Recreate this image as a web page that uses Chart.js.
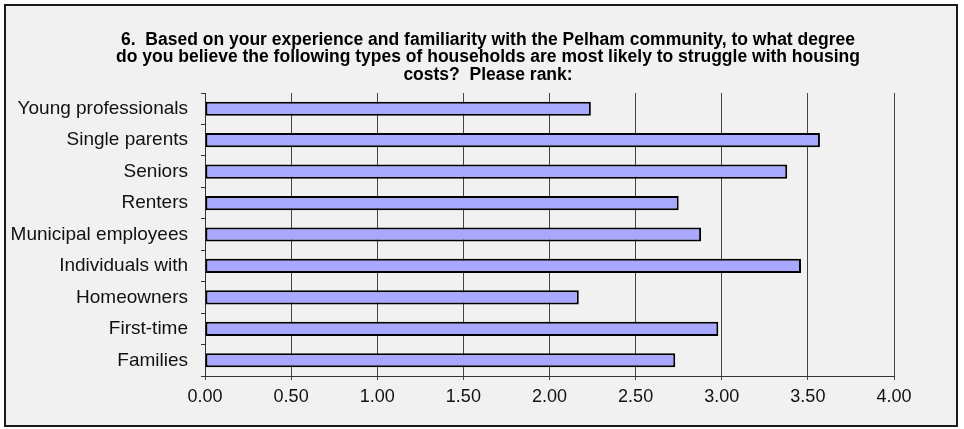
<!DOCTYPE html>
<html lang="en">
<head>
  <meta charset="UTF-8">
  <title>Housing cost struggle ranking</title>
  <script src="https://cdn.jsdelivr.net/npm/chart.js"></script>
  <style>
    body { margin: 0; background: #fff; }
    #box { position: absolute; left: 4px; top: 4px; width: 950px; height: 419px; border: 2px solid #1a1a1a; background: #f1f1f1; }
    canvas { display: block; }
  </style>
</head>
<body>
  <div id="box"><canvas id="rankChart" width="950" height="419"></canvas></div>
  <script>
    const titleLines = [
      '6.  Based on your experience and familiarity with the Pelham community, to what degree',
      'do you believe the following types of households are most likely to struggle with housing',
      'costs?  Please rank:'
    ];
    const categories = ['Young professionals', 'Single parents', 'Seniors', 'Renters',
      'Municipal employees', 'Individuals with', 'Homeowners', 'First-time', 'Families'];
    const scores = [2.24, 3.57, 3.38, 2.75, 2.88, 3.46, 2.17, 2.98, 2.73];
    const axisMin = 0, axisMax = 4, axisStep = 0.5;

    const font = 'Liberation Sans, Arial, sans-serif';

    // left padding moves the title centre; y labels would be clipped to the narrowed
    // scale box, so widen that box back to the canvas edge once layout is done
    const widenLabels = {
      id: 'widenLabels',
      afterLayout(chart) { chart.scales.y.left = 0; }
    };

    new Chart(document.getElementById('rankChart'), {
      type: 'bar',
      data: {
        labels: categories,
        datasets: [{
          data: scores,
          backgroundColor: '#a8a8ff',
          borderColor: '#000',
          borderWidth: 2,
          borderSkipped: false,
          barPercentage: 0.45,
          categoryPercentage: 1
        }]
      },
      options: {
        indexAxis: 'y',
        responsive: false,
        animation: false,
        layout: { padding: { top: 25, right: 62, bottom: 0, left: 76 } },
        plugins: {
          legend: { display: false },
          tooltip: { enabled: false },
          title: {
            display: true,
            text: titleLines,
            color: '#000',
            font: { family: font, size: 17.5, weight: 'bold', lineHeight: 1.0 },
            padding: { top: 0, bottom: 9.5 }
          }
        },
        scales: {
          x: {
            min: axisMin,
            max: axisMax,
            afterFit: s => { s.height = 49; },
            ticks: {
              stepSize: axisStep,
              color: '#111',
              padding: 6,
              font: { family: font, size: 18 },
              callback: v => Number(v).toFixed(2)
            },
            grid: { color: '#444', lineWidth: 1, tickLength: 4, drawTicks: true },
            border: { color: '#333', width: 1 }
          },
          y: {
            afterFit: s => { s.width = 123; },
            ticks: {
              color: '#111',
              padding: 13,
              font: { family: font, size: 19 }
            },
            grid: { drawOnChartArea: false, color: '#333', tickLength: 4, offset: true },
            border: { color: '#333', width: 1 }
          }
        }
      },
      plugins: [widenLabels]
    });
  </script>
</body>
</html>
